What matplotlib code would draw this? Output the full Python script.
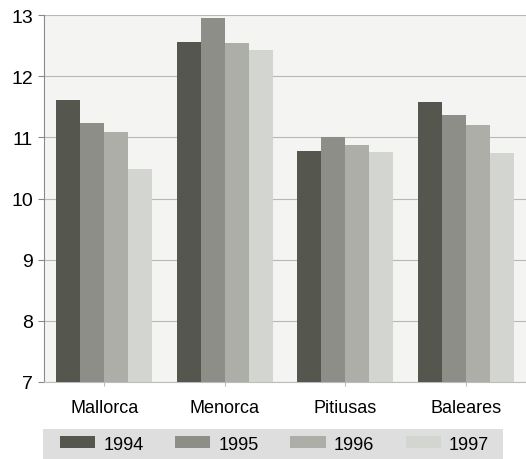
import matplotlib
matplotlib.use("Agg")
import matplotlib.pyplot as plt
from matplotlib.patches import Rectangle
import numpy as np

plt.rcParams['font.family'] = ['Liberation Sans', 'DejaVu Sans']

categories = ["Mallorca", "Menorca", "Pitiusas", "Baleares"]
years = ["1994", "1995", "1996", "1997"]
v1994 = [11.61, 12.56, 10.77, 11.58]
v1995 = [11.24, 12.95, 11.00, 11.36]
v1996 = [11.09, 12.55, 10.88, 11.20]
v1997 = [10.48, 12.42, 10.76, 10.74]
series = [v1994, v1995, v1996, v1997]
colors = ["#55574f", "#8d8e87", "#adaea8", "#d3d5d1"]

fig = plt.figure(figsize=(5.26, 4.6), dpi=100)
fig.patch.set_facecolor("white")
ax = fig.add_axes([0.0837, 0.1674, 0.9163, 0.7978])
ax.set_facecolor("#f4f4f2")

x = np.arange(len(categories))
w = 0.2
for i, (vals, c, yr) in enumerate(zip(series, colors, years)):
    ax.bar(x + (i - 1.5) * w, vals, width=w, color=c, label=yr, zorder=3,
           edgecolor="none")

ax.set_xlim(-0.5, 3.5)
ax.set_ylim(7, 13)
ax.set_yticks(range(7, 14))
ax.set_xticks(x)
ax.set_xticklabels(categories)
ax.tick_params(axis="y", labelsize=14, length=4, color="#888888", pad=4)
ax.tick_params(axis="x", labelsize=13, length=3, color="#bbbbbb", pad=9)
ax.yaxis.grid(True, color="#b8b8b8", linewidth=0.8, zorder=0)
for s in ["top", "right"]:
    ax.spines[s].set_visible(False)
ax.spines["left"].set_color("#8a8a8a")
ax.spines["bottom"].set_color("#bdbdbd")
ax.spines["left"].set_linestyle((0, (1, 1)))

# legend background band
fig.patches.append(Rectangle((0.0817, 0.0), 0.8745, 0.0652,
                             transform=fig.transFigure, facecolor="#dedede",
                             edgecolor="none", zorder=0))
leg = fig.legend(loc="center", bbox_to_anchor=(0.522, 0.0326), ncol=4,
                 fontsize=13, frameon=False, handlelength=1.95,
                 handleheight=0.67, handletextpad=0.45, columnspacing=1.75,
                 borderpad=0, borderaxespad=0)

fig.savefig("out.png", dpi=100)
